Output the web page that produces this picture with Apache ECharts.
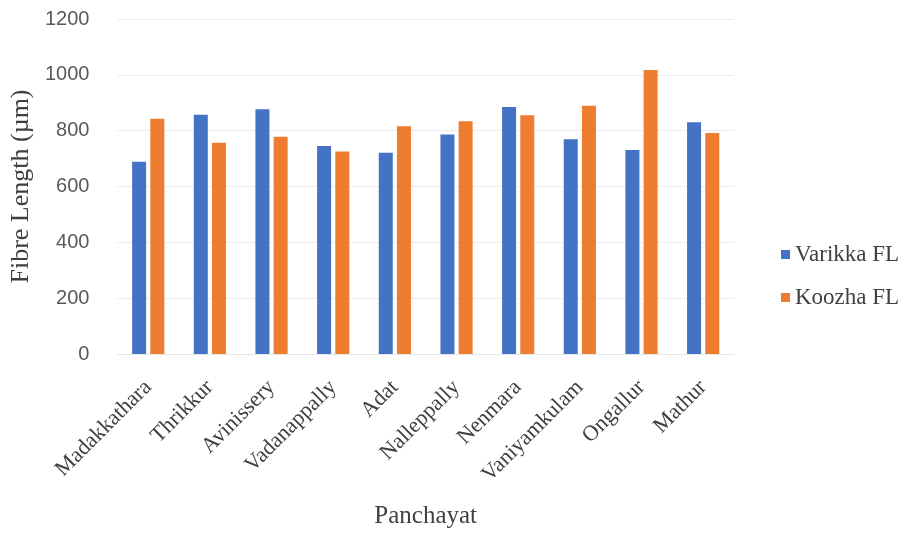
<!DOCTYPE html>
<html>
<head>
<meta charset="utf-8">
<title>Fibre Length by Panchayat</title>
<script src="https://cdn.jsdelivr.net/npm/echarts@6/dist/echarts.min.js"></script>
<style>
  html, body { margin: 0; padding: 0; background: #ffffff; }
  #chart { width: 908px; height: 534px; }
</style>
</head>
<body>
<div id="chart"></div>
<script>
// Panchayats along the x axis
const categories = ['Madakkathara', 'Thrikkur', 'Avinissery', 'Vadanappally', 'Adat',
  'Nalleppally', 'Nenmara', 'Vaniyamkulam', 'Ongallur', 'Mathur'];

// Mean fibre length (µm) per panchayat
const varikkaFL = [689, 857, 877, 745, 721, 786, 885, 769, 731, 830];
const koozhaFL  = [843, 757, 778, 725, 816, 834, 855, 889, 1017, 792];

// Value axis ticks
const yTicks = [0, 200, 400, 600, 800, 1000, 1200];

const serif = '"Liberation Serif", "DejaVu Serif", serif';
const sans = '"Liberation Sans", "Open Sans", sans-serif';

const chart = echarts.init(document.getElementById('chart'), null, { renderer: 'canvas' });

chart.setOption({
  animation: false,
  backgroundColor: '#ffffff',
  grid: { left: 114, right: 174, top: 19, bottom: 178, containLabel: false },
  legend: {
    orient: 'vertical',
    left: 776,
    top: 238,
    itemWidth: 9,
    itemHeight: 9,
    itemGap: 20,
    icon: 'rect',
    textStyle: { fontFamily: serif, fontSize: 23, color: '#404040' },
    data: ['Varikka FL', 'Koozha FL']
  },
  xAxis: {
    type: 'category',
    data: categories,
    name: 'Panchayat',
    nameLocation: 'middle',
    nameGap: 150,
    nameTextStyle: { fontFamily: serif, fontSize: 25, color: '#404040' },
    axisLine: { show: true, lineStyle: { color: '#e6e6e6', width: 1 } },
    axisTick: { show: false },
    axisLabel: {
      rotate: 45,
      margin: 30,
      interval: 0,
      fontFamily: serif,
      fontSize: 22,
      color: '#404040'
    }
  },
  yAxis: {
    type: 'value',
    min: yTicks[0],
    max: yTicks[yTicks.length - 1],
    interval: yTicks[1] - yTicks[0],
    name: 'Fibre Length (µm)',
    nameLocation: 'middle',
    nameRotate: 90,
    nameGap: 77,
    nameTextStyle: { fontFamily: serif, fontSize: 26, color: '#404040' },
    axisLine: { show: false },
    axisTick: { show: false },
    splitLine: { show: true, lineStyle: { color: '#ececec', width: 1 } },
    axisLabel: {
      margin: 28,
      fontFamily: sans,
      fontSize: 20,
      color: '#595959',
      formatter: (v) => String(v)
    }
  },
  series: [
    {
      name: 'Varikka FL',
      type: 'bar',
      data: varikkaFL,
      barWidth: 14,
      barGap: '30%',
      itemStyle: { color: '#4472C4' }
    },
    {
      name: 'Koozha FL',
      type: 'bar',
      data: koozhaFL,
      barWidth: 14,
      barGap: '30%',
      itemStyle: { color: '#ED7D31' }
    }
  ]
});
</script>
</body>
</html>
